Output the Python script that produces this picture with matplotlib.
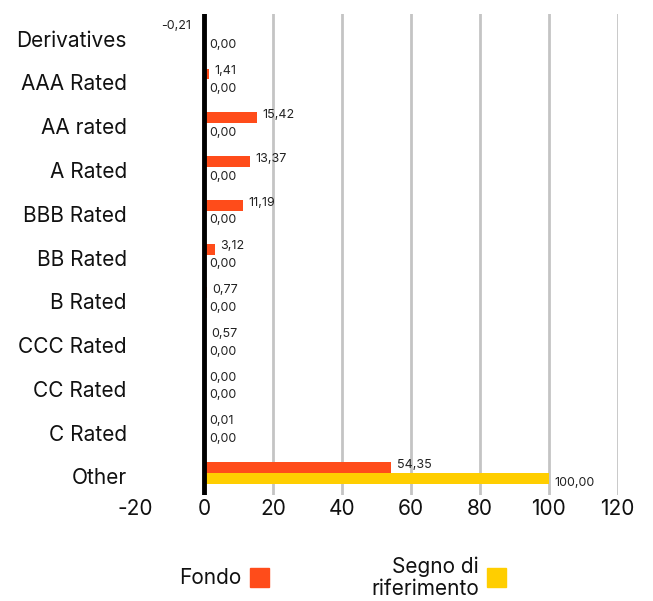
import matplotlib
matplotlib.use("Agg")
import matplotlib.pyplot as plt
from matplotlib.patches import Rectangle
import matplotlib.transforms as mtransforms
import numpy as np

categories = ["Derivatives", "AAA Rated", "AA rated", "A Rated", "BBB Rated", "BB Rated",
              "B Rated", "CCC Rated", "CC Rated", "C Rated", "Other"]
fondo = [-0.21, 1.41, 15.42, 13.37, 11.19, 3.12, 0.77, 0.57, 0.00, 0.01, 54.35]
segno = [0.00, 0.00, 0.00, 0.00, 0.00, 0.00, 0.00, 0.00, 0.00, 0.00, 100.00]
xticks = [-20, 0, 20, 40, 60, 80, 100, 120]
series_names = ["Fondo", "Segno di\nriferimento"]

c_fondo = "#FF4C1A"
c_segno = "#FFCE00"

plt.rcParams['font.family'] = ['Inter', 'DejaVu Sans']

fig = plt.figure(figsize=(6.53, 6.01), dpi=100)
ax = fig.add_axes([0.207, 0.176, 0.739, 0.801])

y = np.arange(len(categories))
h = 0.25
ax.barh(y - h / 2, fondo, height=h, color=c_fondo, zorder=3)
ax.barh(y + h / 2, segno, height=h, color=c_segno, zorder=3)

def fmt(v):
    return f"{v:.2f}".replace(".", ",")

lab_fs = 9
for yi, v in zip(y, fondo):
    if v < 0:
        ax.annotate(fmt(v), (0, yi - h / 2), xytext=(-9, 3), textcoords="offset points",
                    ha="right", va="center", fontsize=lab_fs, color="#222222", zorder=4)
    else:
        ax.annotate(fmt(v), (v, yi - h / 2), xytext=(4, 2), textcoords="offset points",
                    ha="left", va="center", fontsize=lab_fs, color="#222222", zorder=4)
for yi, v in zip(y, segno):
    ax.annotate(fmt(v), (max(v, 0), yi + h / 2), xytext=(4, -3), textcoords="offset points",
                ha="left", va="center", fontsize=lab_fs, color="#222222", zorder=4)

ax.set_xlim(-20, 120)
ax.set_ylim(len(categories) - 0.5, -0.5)
ax.set_xticks(xticks)
ax.set_xticklabels([str(t) for t in xticks])
ax.set_yticks(y)
ax.set_yticklabels(categories)
ax.tick_params(axis="both", length=0, labelsize=15, colors="#111111")
ax.tick_params(axis="y", pad=6)
ax.tick_params(axis="x", pad=3)
off = mtransforms.ScaledTranslation(0, -3 / 100, fig.dpi_scale_trans)
for lab in ax.get_yticklabels():
    lab.set_transform(lab.get_transform() + off)
for s in ax.spines.values():
    s.set_visible(False)
for t in xticks:
    if t > 0:
        ax.axvline(t, color="#C4C4C4", lw=2, zorder=1)
ax.axvline(0, color="black", lw=3.5, zorder=5)

# legend
fig.text(241 / 653, 1 - 578 / 601, series_names[0], ha="right", va="center", fontsize=15,
         color="#111111")
fig.patches.append(Rectangle((250 / 653, 1 - 587 / 601), 19 / 653, 19 / 601,
                             transform=fig.transFigure, color=c_fondo))
fig.text(479 / 653, 1 - 578 / 601, series_names[1], ha="right", va="center", fontsize=15,
         color="#111111", linespacing=1.15)
fig.patches.append(Rectangle((487 / 653, 1 - 587 / 601), 19 / 653, 19 / 601,
                             transform=fig.transFigure, color=c_segno))

fig.savefig("out.png", dpi=100)
